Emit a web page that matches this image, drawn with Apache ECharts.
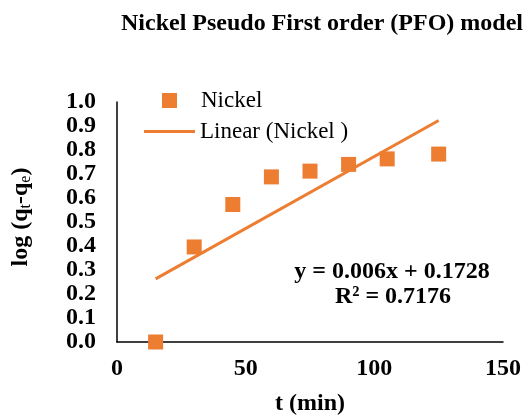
<!DOCTYPE html>
<html><head><meta charset="utf-8">
<script src="https://cdn.jsdelivr.net/npm/echarts@6/dist/echarts.min.js"></script>
<style>html,body{margin:0;padding:0;background:#fff}#c{width:523px;height:415px}</style>
</head><body><div id="c"></div>
<script>
var timeMin = [15, 30, 45, 60, 75, 90, 105, 125];
var logQ = [0.0, 0.396, 0.573, 0.688, 0.712, 0.740, 0.763, 0.783];
var trendX = [15, 125];
var trendY = [0.2628, 0.9228];
var xTicks = [0, 50, 100, 150];
var yTicks = [0.0, 0.1, 0.2, 0.3, 0.4, 0.5, 0.6, 0.7, 0.8, 0.9, 1.0];
var eqLine1 = 'y = 0.006x + 0.1728';
var eqLine2 = 'R² = 0.7176';

var FONT = 'Liberation Serif';
var ORANGE = '#ED7D31';
var chart = echarts.init(document.getElementById('c'));
chart.setOption({
  animation: false,
  textStyle: {fontFamily: FONT},
  title: {
    text: 'Nickel Pseudo First order (PFO) model',
    left: 322, top: 12, textAlign: 'center', padding: 0,
    textStyle: {fontFamily: FONT, fontWeight: 'bold', fontSize: 24, color: '#000'}
  },
  grid: {left: 117, right: 20, top: 102, bottom: 73, containLabel: false, outerBoundsMode: 'none'},
  legend: [{
    data: [{name: 'Nickel', icon: 'rect'}],
    left: 162, top: 89, padding: 0, itemWidth: 15, itemHeight: 15,
    textStyle: {fontFamily: FONT, fontSize: 23, color: '#000', padding: [0, 0, 0, 19]}
  }, {
    data: [{name: 'Linear (Nickel )', icon: 'path://M0,0H51V3H0Z'}],
    left: 144, top: 120, padding: 0, itemWidth: 51, itemHeight: 3,
    textStyle: {fontFamily: FONT, fontSize: 23, color: '#000'}
  }],
  xAxis: {
    type: 'value', min: 0, max: 150, interval: 50,
    name: 't (min)', nameLocation: 'middle', nameGap: 50, nameMoveOverlap: false,
    nameTextStyle: {fontFamily: FONT, fontWeight: 'bold', fontSize: 24, color: '#000'},
    axisLine: {show: true, onZero: false, lineStyle: {color: '#000', width: 1.5}},
    axisTick: {show: false},
    splitLine: {show: false},
    axisLabel: {fontFamily: FONT, fontWeight: 'bold', fontSize: 24, color: '#000', margin: 15,
      formatter: function (v) { return xTicks.indexOf(v) >= 0 ? String(v) : ''; }}
  },
  yAxis: {
    type: 'value', min: 0, max: 1, interval: 0.1,
    name: '{a|log (q}{s|t}{a|-q}{s|e}{a|)}', nameLocation: 'middle', nameGap: 82, nameRotate: 90, nameMoveOverlap: false,
    nameTextStyle: {
      padding: [0, 0, 0, 10],
      rich: {
        a: {fontFamily: FONT, fontWeight: 'bold', fontSize: 24, color: '#000', lineHeight: 28},
        s: {fontFamily: FONT, fontWeight: 'normal', fontSize: 16, color: '#000', lineHeight: 28, padding: [10, 0, 0, 0]}
      }
    },
    axisLine: {show: true, onZero: false, lineStyle: {color: '#000', width: 1.5}},
    axisTick: {show: false},
    splitLine: {show: false},
    axisLabel: {fontFamily: FONT, fontWeight: 'bold', fontSize: 24, color: '#000', margin: 21,
      formatter: function (v) { return v.toFixed(1); }}
  },
  series: [{
    name: 'Nickel', type: 'scatter', symbol: 'rect', symbolSize: 15,
    itemStyle: {color: ORANGE, opacity: 1},
    data: timeMin.map(function (t, i) { return [t, logQ[i]]; }),
    z: 3
  }, {
    name: 'Linear (Nickel )', type: 'line', symbol: 'none',
    lineStyle: {color: ORANGE, width: 3}, itemStyle: {color: ORANGE},
    data: trendX.map(function (t, i) { return [t, trendY[i]]; }),
    z: 2
  }],
  graphic: [{
    type: 'text', x: 392, y: 272,
    style: {text: eqLine1, fontFamily: FONT, fontWeight: 'bold', fontSize: 24, fill: '#000', align: 'center', verticalAlign: 'middle'}
  }, {
    type: 'text', x: 393, y: 297,
    style: {text: eqLine2, fontFamily: FONT, fontWeight: 'bold', fontSize: 24, fill: '#000', align: 'center', verticalAlign: 'middle'}
  }]
});
</script></body></html>
